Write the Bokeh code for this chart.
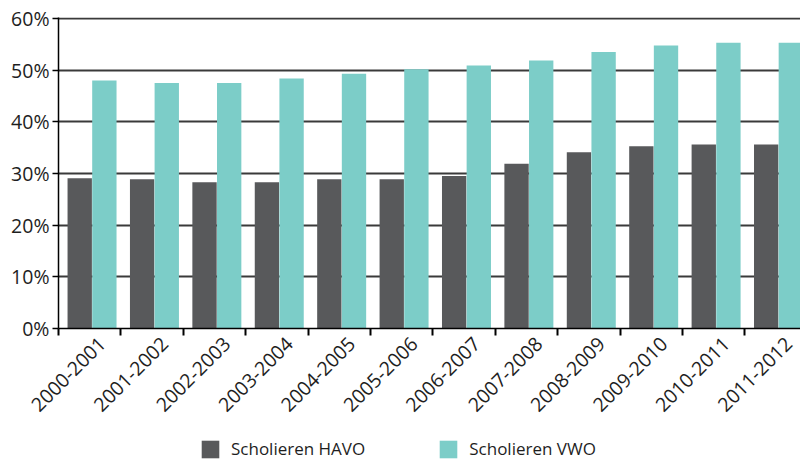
import numpy as np
from bokeh.plotting import figure
from bokeh.layouts import column
from bokeh.models import (ColumnDataSource, Range1d, FixedTicker, PrintfTickFormatter,
                          CustomJSTickFormatter, Legend, LegendItem)
from bokeh.embed import file_html
from bokeh.resources import INLINE

# School years and share of pupils (%)
years = ["2000-2001", "2001-2002", "2002-2003", "2003-2004", "2004-2005", "2005-2006",
         "2006-2007", "2007-2008", "2008-2009", "2009-2010", "2010-2011", "2011-2012"]
havo = [29.1, 28.9, 28.3, 28.3, 28.9, 28.9, 29.5, 31.9, 34.1, 35.3, 35.6, 35.6]
vwo = [48.0, 47.5, 47.5, 48.4, 49.3, 50.2, 50.9, 51.9, 53.5, 54.8, 55.3, 55.3]
y_ticks = [0, 10, 20, 30, 40, 50, 60]
series_names = ["Scholieren HAVO", "Scholieren VWO"]

HAVO_COLOR = "#58595b"
VWO_COLOR = "#7ccdc8"
FONT = "Open Sans"
TEXT = "#1e1e1e"

idx = np.arange(len(years))
src = ColumnDataSource(dict(
    x_havo=idx - 0.16, x_vwo=idx + 0.235, havo=havo, vwo=vwo))

# ---- main bar chart ----
p = figure(width=800, height=437, output_backend="svg", toolbar_location=None,
           x_range=Range1d(-0.5, 11.39), y_range=Range1d(0, 60.2),
           min_border_left=58, min_border_right=0, min_border_top=17,
           min_border_bottom=109)
p.outline_line_color = None
p.background_fill_color = "white"

p.vbar(x="x_havo", width=0.39, top="havo", bottom=0, source=src,
       fill_color=HAVO_COLOR, line_color=None)
p.vbar(x="x_vwo", width=0.39, top="vwo", bottom=0, source=src,
       fill_color=VWO_COLOR, line_color=None)

# y axis
p.yaxis.ticker = FixedTicker(ticks=y_ticks)
p.yaxis.formatter = PrintfTickFormatter(format="%d%%")
p.yaxis.major_label_text_font = FONT
p.yaxis.major_label_text_font_size = "19.5px"
p.yaxis.major_label_text_color = TEXT
p.yaxis.major_tick_out = 6
p.yaxis.major_tick_in = 0
p.yaxis.minor_tick_line_color = None
p.yaxis.axis_line_color = "black"
p.yaxis.axis_line_width = 1.5
p.yaxis.major_tick_line_width = 1.5
p.yaxis.major_label_standoff = 3

# x axis: labels near the pair of bars, tick marks between categories
label_pos = list(idx + 0.2)
boundaries = list(np.arange(len(years) + 1) - 0.5)
p.xaxis.ticker = FixedTicker(ticks=label_pos, minor_ticks=boundaries)
p.xaxis.formatter = CustomJSTickFormatter(args=dict(labels=years), code="""
    return labels[Math.round(tick - 0.2)];
""")
p.xaxis.major_label_orientation = np.pi / 4
p.xaxis.major_label_text_font = FONT
p.xaxis.major_label_text_font_size = "19.5px"
p.xaxis.major_label_text_color = TEXT
p.xaxis.major_tick_line_color = None
p.xaxis.minor_tick_out = 7
p.xaxis.minor_tick_in = 0
p.xaxis.minor_tick_line_color = "black"
p.xaxis.minor_tick_line_width = 2
p.xaxis.axis_line_color = "black"
p.xaxis.axis_line_width = 1.5
p.xaxis.major_label_standoff = 5

# grid (the 60% line closes the top of the chart)
p.xgrid.grid_line_color = None
p.ygrid.ticker = FixedTicker(ticks=y_ticks[1:])
p.ygrid.grid_line_color = "#3a3a3a"
p.ygrid.grid_line_width = 2
p.ygrid.level = "underlay"

# ---- legend strip underneath (its bars sit below the visible y range) ----
lg = figure(width=800, height=24, output_backend="svg", toolbar_location=None,
            x_axis_location=None, y_axis_location=None,
            x_range=Range1d(-0.5, 11.5), y_range=Range1d(100, 101),
            min_border=0, outline_line_color=None)
lg.xgrid.grid_line_color = None
lg.ygrid.grid_line_color = None
sw_havo = lg.vbar(x="x_havo", width=0.39, top="havo", bottom=0, source=src,
                  fill_color=HAVO_COLOR, line_color=None)
sw_vwo = lg.vbar(x="x_vwo", width=0.39, top="vwo", bottom=0, source=src,
                 fill_color=VWO_COLOR, line_color=None)
legend = Legend(items=[LegendItem(label=series_names[0], renderers=[sw_havo]),
                       LegendItem(label=series_names[1], renderers=[sw_vwo])],
                orientation="horizontal", location=(141, 1),
                glyph_width=22, glyph_height=22, label_standoff=10, spacing=72,
                padding=0, margin=0, border_line_color=None, background_fill_alpha=0,
                label_text_font=FONT, label_text_font_size="17px",
                label_text_color=TEXT)
lg.add_layout(legend, "center")

layout = column(p, lg, spacing=0)
open("out.html", "w").write(file_html(layout, INLINE))
